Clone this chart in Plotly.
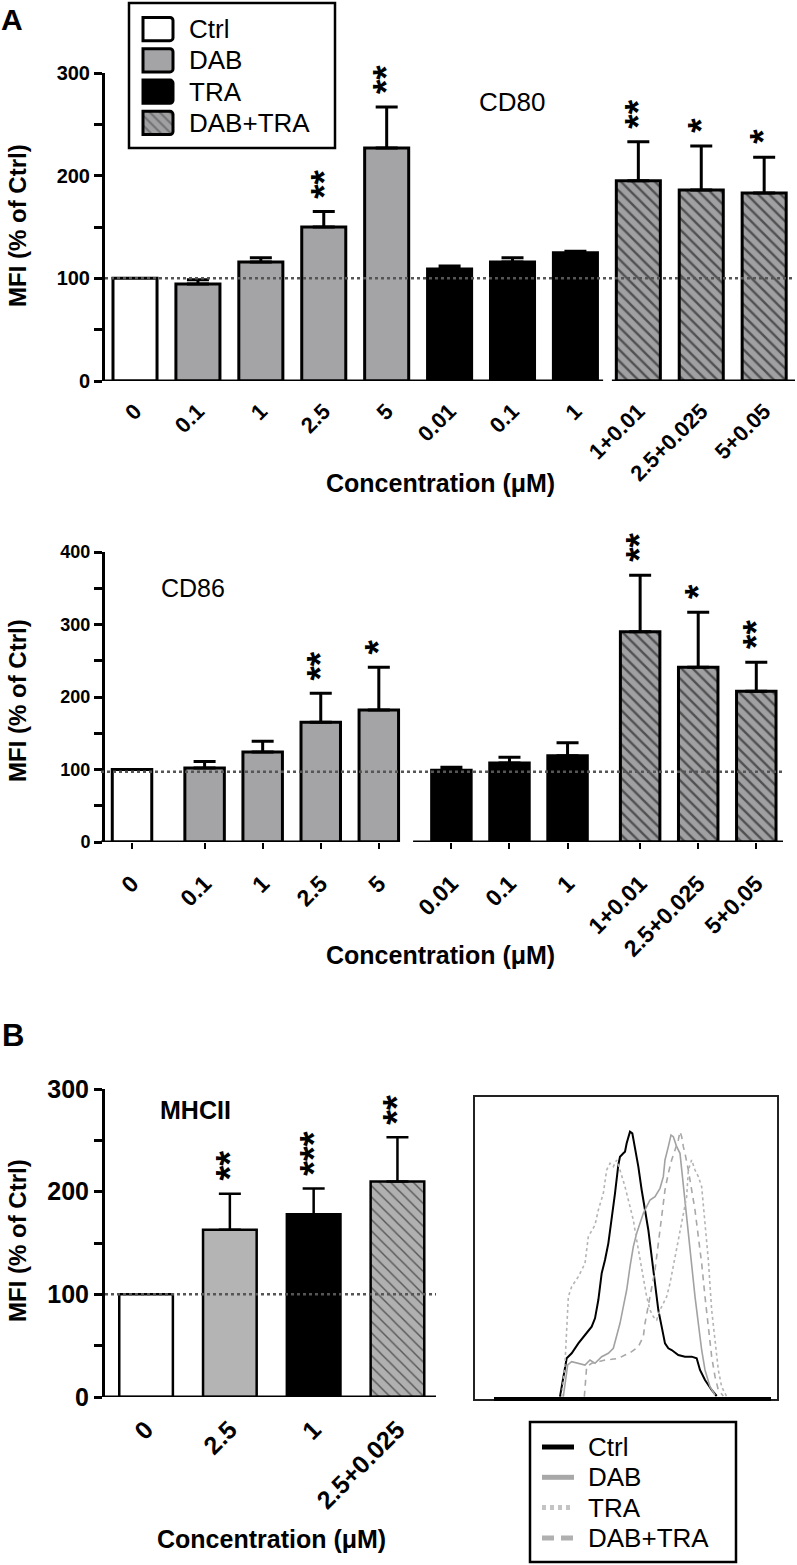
import plotly.graph_objects as go

W, H = 797, 1565
FONT = "Arial, Liberation Sans, sans-serif"

groups = ["Ctrl", "DAB", "TRA", "DAB+TRA"]

# --- panel A, CD80 ---
cd80_labels = ["0", "0.1", "1", "2.5", "5", "0.01", "0.1", "1", "1+0.01", "2.5+0.025", "5+0.05"]
cd80_groups = ["Ctrl", "DAB", "DAB", "DAB", "DAB", "TRA", "TRA", "TRA", "DAB+TRA", "DAB+TRA", "DAB+TRA"]
cd80_mean = [100, 94.5, 116, 150, 227, 109, 116, 125, 195, 186, 183]
cd80_sem = [0, 4, 4, 15, 40, 3, 4, 1.5, 38, 43, 35]
cd80_stars = ["", "", "", "**", "**", "", "", "", "**", "*", "*"]

# --- panel A, CD86 ---
cd86_labels = cd80_labels
cd86_groups = cd80_groups
cd86_mean = [100, 102, 124, 165, 182, 99, 109, 119, 290, 241, 208]
cd86_sem = [0, 9, 15, 40, 59, 4, 8, 18, 78, 76, 40]
cd86_stars = ["", "", "", "**", "*", "", "", "", "**", "*", "**"]

# --- panel B, MHCII ---
mhc_labels = ["0", "2.5", "1", "2.5+0.025"]
mhc_groups = ["Ctrl", "DAB", "TRA", "DAB+TRA"]
mhc_mean = [100, 163, 178, 210]
mhc_sem = [0, 35, 25, 43]
mhc_stars = ["", "**", "***", "**"]

# --- panel B, histogram (channel, count) ---
ctrl_ch = [255, 265, 275, 290, 310, 330, 350, 360, 370, 380, 390, 400, 410, 420, 430, 435, 445, 450, 455, 465,
           472, 480, 490, 500, 510, 520, 530, 540, 550, 560, 570, 580, 590, 610, 630, 650, 665, 675, 690, 710, 725]
ctrl_n = [0, 60, 115, 130, 160, 185, 210, 235, 290, 370, 410, 460, 530, 610, 695, 720, 730, 735, 760, 795,
          790, 750, 690, 620, 560, 500, 420, 340, 260, 210, 160, 145, 140, 125, 120, 120, 115, 80, 50, 20, 2]
dab_ch = [265, 278, 290, 310, 330, 345, 360, 380, 400, 415, 425, 435, 445, 455, 465, 475, 485, 495, 505, 515,
          525, 540, 555, 565, 570, 580, 588, 595, 605, 615, 620, 630, 640, 650, 660, 670, 680, 690, 705, 720]
dab_n = [0, 95, 105, 100, 95, 110, 100, 120, 130, 145, 180, 220, 270, 320, 390, 450, 490, 520, 550, 570,
         590, 600, 625, 660, 710, 750, 785, 780, 750, 730, 680, 600, 500, 400, 300, 220, 140, 80, 30, 5]
tra_ch = [260, 270, 280, 290, 310, 330, 340, 350, 360, 370, 385, 395, 405, 415, 425, 435, 450, 465, 475, 485,
          495, 505, 515, 525, 535, 545, 555, 565, 575, 585, 595, 605, 615, 625, 635, 640, 650, 660, 670, 680,
          690, 700, 710, 720, 730, 740, 755]
tra_n = [0, 100, 300, 330, 360, 400, 480, 500, 515, 560, 610, 680, 700, 690, 710, 680, 630, 570, 530, 470,
         410, 360, 300, 260, 240, 230, 260, 280, 300, 340, 390, 440, 490, 540, 600, 680, 710, 680, 660, 630,
         530, 410, 260, 160, 80, 30, 0]
combo_ch = [328, 335, 350, 370, 390, 410, 430, 450, 470, 490, 505, 510, 520, 530, 540, 550, 560, 570, 580, 590,
            600, 610, 615, 620, 625, 630, 640, 650, 660, 670, 680, 690, 700, 710, 720, 730, 745]
combo_n = [0, 90, 100, 105, 110, 112, 115, 125, 135, 150, 180, 220, 270, 330, 380, 460, 540, 620, 670, 710,
           740, 770, 795, 780, 750, 730, 680, 620, 560, 480, 400, 300, 200, 120, 60, 20, 2]


def fx(p):
    return p / W


def fy(p):
    return 1 - p / H


fills_a = {"Ctrl": "white", "DAB": "#a4a4a7", "TRA": "black", "DAB+TRA": "#a0a0a3"}
fills_b = {"Ctrl": "white", "DAB": "#b4b4b4", "TRA": "black", "DAB+TRA": "#b0b0b0"}


def add_bars(fig, xa, ya, pos, grp, mean, sem, stars, width, lw, fills, hatch_w, star_size):
    for g in groups:
        idx = [i for i, v in enumerate(grp) if v == g]
        if not idx:
            continue
        fig.add_trace(go.Bar(
            x=[pos[i] for i in idx], y=[mean[i] for i in idx], width=width,
            marker=dict(color=fills[g], line=dict(color="black", width=lw),
                        pattern=dict(shape="\\" if g == "DAB+TRA" else "", fgcolor="black",
                                     size=8, solidity=hatch_w)),
            error_y=dict(type="data", symmetric=False, array=[sem[i] for i in idx],
                         arrayminus=[0] * len(idx), color="black", thickness=lw, width=11,
                         visible=(g != "Ctrl")),
            xaxis=xa, yaxis=ya, showlegend=False, hoverinfo="skip"))
    for i, s in enumerate(stars):
        if s:
            fig.add_annotation(x=pos[i], y=mean[i] + sem[i], xref=xa, yref=ya, text="<b>%s</b>" % s,
                               textangle=-90, showarrow=False, xanchor="center", yanchor="bottom", yshift=11,
                               font=dict(size=star_size, color="black", family=FONT))


fig = go.Figure()

# positions
cd80_pos = list(range(len(cd80_labels)))
gi = {g: k for k, g in enumerate(groups)}
cd86_pos = [i + 0.25 * gi[g] for i, g in enumerate(cd86_groups)]
mhc_pos = list(range(len(mhc_labels)))

add_bars(fig, "x", "y", cd80_pos, cd80_groups, cd80_mean, cd80_sem, cd80_stars, 0.7, 3, fills_a, 0.3, 37)
add_bars(fig, "x2", "y2", cd86_pos, cd86_groups, cd86_mean, cd86_sem, cd86_stars, 0.68, 3, fills_a, 0.3, 37)
add_bars(fig, "x3", "y3", mhc_pos, mhc_groups, mhc_mean, mhc_sem, mhc_stars, 0.64, 2.5, fills_b, 0.18, 38)

# histogram
hist = [("Ctrl", ctrl_ch, ctrl_n, "black", "solid", 2),
        ("DAB", dab_ch, dab_n, "#a2a2a2", "solid", 1.6),
        ("TRA", tra_ch, tra_n, "#b4b4b4", "dot", 1.6),
        ("DAB+TRA", combo_ch, combo_n, "#a8a8a8", "6px,5px", 1.6)]
for name, xs, ys, col, dash, w in hist:
    fig.add_trace(go.Scatter(x=xs, y=ys, mode="lines", line=dict(color=col, dash=dash, width=w),
                             xaxis="x4", yaxis="y4", showlegend=False, hoverinfo="skip"))

# panel A legend swatches
fig.add_trace(go.Bar(
    x=[1] * 4, y=list(range(4)), orientation="h", width=0.74,
    marker=dict(color=[fills_a[g] for g in groups], line=dict(color="black", width=3), cornerradius=3,
                pattern=dict(shape=["", "", "", "\\"], fgcolor="black", size=7, solidity=0.3)),
    xaxis="x5", yaxis="y5", showlegend=False, hoverinfo="skip"))


def yax(dom, rng, size):
    return dict(domain=dom, range=rng, showline=True, linewidth=3, linecolor="black", ticks="outside",
                ticklen=8, tickwidth=2.5, tickcolor="black", dtick=100, showgrid=False, zeroline=False,
                minor=dict(dtick=50, ticks="outside", ticklen=8, tickwidth=2.5, tickcolor="black"),
                tickfont=dict(family=FONT, size=size, color="black", weight="bold"), fixedrange=True)


def xax(dom, rng, pos, labels, anchor, ticks, size):
    return dict(domain=dom, range=rng, anchor=anchor, showline=False, showgrid=False, zeroline=False,
                tickmode="array", tickvals=pos, ticktext=labels, tickangle=-45, ticks=ticks, ticklen=6,
                tickwidth=2, tickcolor="black", ticklabelstandoff=12,
                tickfont=dict(family=FONT, size=size, color="black", weight="bold"))


blank = dict(showgrid=False, zeroline=False, showticklabels=False, ticks="")

fig.update_layout(
    width=W, height=H, margin=dict(l=0, r=0, t=0, b=0, autoexpand=False),
    plot_bgcolor="white", paper_bgcolor="white",
    barmode="overlay", showlegend=False,
    xaxis=xax([fx(105), fx(795)], [-0.477, 10.49], cd80_pos, cd80_labels, "y", "", 22),
    yaxis=yax([fy(381), fy(73)], [0, 300], 20),
    xaxis2=xax([fx(101), fx(783)], [-0.534, 11.21], cd86_pos, cd86_labels, "y2", "outside", 23),
    yaxis2=yax([fy(842), fy(552)], [0, 400], 18),
    xaxis3=xax([fx(105), fx(436)], [-0.49, 3.46], mhc_pos, mhc_labels, "y3", "", 25),
    yaxis3=yax([fy(1397), fy(1089)], [0, 300], 25),
    xaxis4=dict(domain=[fx(475), fx(777)], range=[0, 906], anchor="y4", showline=True, mirror=True,
                linewidth=2, linecolor="#222", **blank),
    yaxis4=dict(domain=[fy(1399), fy(1097)], range=[-7, 899], anchor="x4", showline=True, mirror=True,
                linewidth=2, linecolor="#222", **blank),
    xaxis5=dict(domain=[fx(140), fx(176)], range=[-0.1, 1.1], anchor="y5", showline=False, **blank),
    yaxis5=dict(domain=[fy(138.6), fy(13.4)], range=[3.5, -0.5], anchor="x5", showline=False, **blank),
)

shapes = []
# broken baselines
for xa, ya, x0, x1 in [("x", "y", -0.477, 7.44), ("x", "y", 7.58, 10.49),
                       ("x2", "y2", -0.534, 4.58), ("x2", "y2", 4.84, 11.21),
                       ("x3", "y3", -0.49, 3.46)]:
    shapes.append(dict(type="line", xref=xa, yref=ya, x0=x0, x1=x1, y0=0, y1=0,
                       line=dict(color="black", width=3), layer="above"))
# reference lines at control level
for xa, ya, x0, x1, lvl in [("x", "y", -0.477, 10.49, 100), ("x2", "y2", -0.534, 11.21, 97),
                            ("x3", "y3", -0.49, 3.46, 100)]:
    shapes.append(dict(type="line", xref=xa, yref=ya, x0=x0, x1=x1, y0=lvl, y1=lvl,
                       line=dict(color="#555", width=2.5, dash="dot"), layer="above"))
# histogram bottom axis
shapes.append(dict(type="line", xref="x4", yref="y4 domain", x0=57, x1=888, y0=0, y1=0,
                   line=dict(color="black", width=4), layer="above"))
# panel A legend box
shapes.append(dict(type="rect", xref="paper", yref="paper", x0=fx(129), x1=fx(335), y0=fy(148), y1=fy(3),
                   line=dict(color="black", width=2.5), fillcolor="rgba(0,0,0,0)", layer="below"))
# histogram legend box and line samples
shapes.append(dict(type="rect", xref="paper", yref="paper", x0=fx(530), x1=fx(736), y0=fy(1562), y1=fy(1422),
                   line=dict(color="black", width=2.5), fillcolor="white", layer="below"))
leg_col = {"Ctrl": "black", "DAB": "#a8a8a8", "TRA": "#c4c4c4", "DAB+TRA": "#b0b0b0"}
leg_dash = {"Ctrl": "solid", "DAB": "solid", "TRA": "4px,4px", "DAB+TRA": "12px,7px"}
for k, g in enumerate(groups):
    yy = fy(1447 + 30.3 * k)
    shapes.append(dict(type="line", xref="paper", yref="paper", x0=fx(542), x1=fx(574), y0=yy, y1=yy,
                       line=dict(color=leg_col[g], width=5, dash=leg_dash[g])))
fig.update_layout(shapes=shapes)

ann = []
for k, g in enumerate(groups):
    ann.append(dict(x=fx(187), y=fy(29 + 31.3 * k), text=g, xanchor="left",
                    font=dict(family=FONT, size=26, color="black")))
    ann.append(dict(x=fx(586), y=fy(1447 + 30.3 * k), text=g, xanchor="left",
                    font=dict(family=FONT, size=26, color="black")))
ann += [
    dict(x=fx(12), y=fy(20), text="<b>A</b>", font=dict(family=FONT, size=30, color="black")),
    dict(x=fx(13), y=fy(1035), text="<b>B</b>", font=dict(family=FONT, size=31, color="black")),
    dict(x=fx(512), y=fy(102), text="CD80", font=dict(family=FONT, size=26, color="black")),
    dict(x=fx(193), y=fy(588), text="CD86", font=dict(family=FONT, size=25, color="black")),
    dict(x=fx(195), y=fy(1110), text="<b>MHCII</b>", font=dict(family=FONT, size=25, color="black")),
]
for yc in [226, 701, 1241]:
    ann.append(dict(x=fx(17), y=fy(yc), text="<b>MFI (% of Ctrl)</b>", textangle=-90,
                    font=dict(family=FONT, size=24, color="black")))
for xc, yc in [(440, 483), (440, 955), (271, 1539)]:
    ann.append(dict(x=fx(xc), y=fy(yc), text="<b>Concentration (μM)</b>",
                    font=dict(family=FONT, size=25, color="black")))
for a in ann:
    a.setdefault("xanchor", "center")
    a.update(xref="paper", yref="paper", showarrow=False, yanchor="middle")
    fig.add_annotation(**a)

fig.write_html("out.html", config={"displayModeBar": False},
               post_script="document.body.style.margin='0';")
